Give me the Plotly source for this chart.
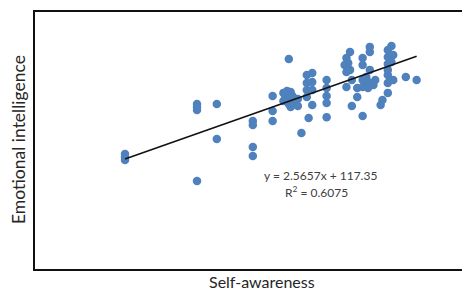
import numpy as np
import plotly.graph_objects as go

# Self-awareness scores (x) and Emotional intelligence scores (y)
self_awareness = [
    20.0, 20.0, 20.0, 24.0, 24.0, 24.0, 25.1, 25.1, 24.0,
    27.1, 27.1, 27.1, 27.1, 28.2, 28.2, 28.2, 29.1,
    28.8, 29.0, 29.2, 28.9, 29.1, 29.3, 29.6, 28.8, 29.1, 29.4, 29.6, 29.2,
    30.1, 30.4, 30.1, 30.4, 30.1, 30.4, 30.1, 30.4, 30.2, 29.8,
    31.2, 31.2, 31.2, 31.2, 31.2,
    32.3, 32.5, 32.2, 32.4, 32.3, 32.5, 32.3, 32.6, 32.9, 33.2,
    33.2, 33.2, 33.6, 33.6, 33.6, 33.4,
    33.2, 33.5, 33.8, 33.2, 33.5, 33.9, 32.6, 32.9,
    34.6, 34.8, 34.6, 34.9, 34.6, 34.8, 34.6, 34.6, 34.9, 34.6, 34.6,
    34.3, 34.2, 35.6, 36.2,
]
emotional_intelligence = [
    170.7, 168.3, 169.5, 190.9, 188.5, 189.7, 190.9, 176.8, 159.8,
    184.0, 182.4, 173.5, 169.9, 194.1, 188.1, 184.0, 209.1,
    195.4, 196.2, 195.8, 193.3, 193.7, 194.1, 192.9, 192.1, 190.9, 190.9, 190.1, 189.7,
    202.6, 203.4, 199.4, 199.8, 196.6, 196.6, 193.7, 190.5, 185.2, 179.2,
    200.6, 197.4, 194.1, 191.3, 185.6,
    209.5, 211.9, 206.7, 207.5, 203.8, 204.7, 197.8, 190.1, 193.7, 186.1,
    209.5, 206.7, 214.0, 211.9, 204.7, 201.8,
    200.6, 199.8, 198.6, 197.8, 197.4, 200.6, 200.6, 197.4,
    212.7, 214.4, 209.9, 210.7, 207.1, 207.9, 204.7, 202.6, 200.6, 199.4, 195.4,
    192.5, 190.5, 201.8, 200.6,
]

# Linear trendline shown on the chart
slope = 2.5657
intercept = 117.35
r_squared = 0.6075

x_title = "Self-awareness"
y_title = "Emotional intelligence"

xs = np.array(self_awareness)
trend_x = np.array([xs.min(), xs.max()])
trend_y = slope * trend_x + intercept

fig = go.Figure()
fig.add_trace(go.Scatter(
    x=self_awareness, y=emotional_intelligence, mode="markers",
    marker=dict(size=8.5, color="#4F81BD", line=dict(width=0)),
    showlegend=False, hoverinfo="x+y",
))
fig.add_trace(go.Scatter(
    x=trend_x, y=trend_y, mode="lines",
    line=dict(color="#111111", width=1.6),
    showlegend=False, hoverinfo="skip",
))

font_family = "Lato, Open Sans, sans-serif"

fig.update_layout(
    width=462, height=290,
    margin=dict(l=35, r=0, t=12, b=21, autoexpand=False),
    paper_bgcolor="white", plot_bgcolor="white",
    xaxis=dict(range=[15, 38.72], showgrid=False, zeroline=False,
               showticklabels=False, ticks="",
               showline=True, linecolor="#111111", linewidth=2, mirror=True),
    yaxis=dict(range=[124.2, 228.1], showgrid=False, zeroline=False,
               showticklabels=False, ticks="",
               showline=True, linecolor="#111111", linewidth=2, mirror=False),
    annotations=[
        dict(text=x_title, xref="paper", yref="paper", x=(262 - 35) / 427, y=(269 - 281) / 257,
             showarrow=False, xanchor="center", yanchor="middle",
             font=dict(family=font_family, size=16, color="#262626")),
        dict(text=y_title, xref="paper", yref="paper", x=(18 - 35) / 427, y=(269 - 140) / 257,
             showarrow=False, textangle=-90, xanchor="center", yanchor="middle",
             font=dict(family=font_family, size=17.5, color="#262626")),
        dict(text=f"y = {slope}x + {intercept}", xref="paper", yref="paper",
             x=(320 - 35) / 427, y=(269 - 175) / 257,
             showarrow=False, xanchor="center", yanchor="middle",
             font=dict(family=font_family, size=12, color="#404040")),
        dict(text=f"R<sup>2</sup> = {r_squared}", xref="paper", yref="paper",
             x=(316 - 35) / 427, y=(269 - 192) / 257,
             showarrow=False, xanchor="center", yanchor="middle",
             font=dict(family=font_family, size=12, color="#404040")),
    ],
)

fig.write_html(
    "out.html",
    config={"displayModeBar": False},
    post_script="document.body.style.margin='0';document.body.style.overflow='hidden';",
)
